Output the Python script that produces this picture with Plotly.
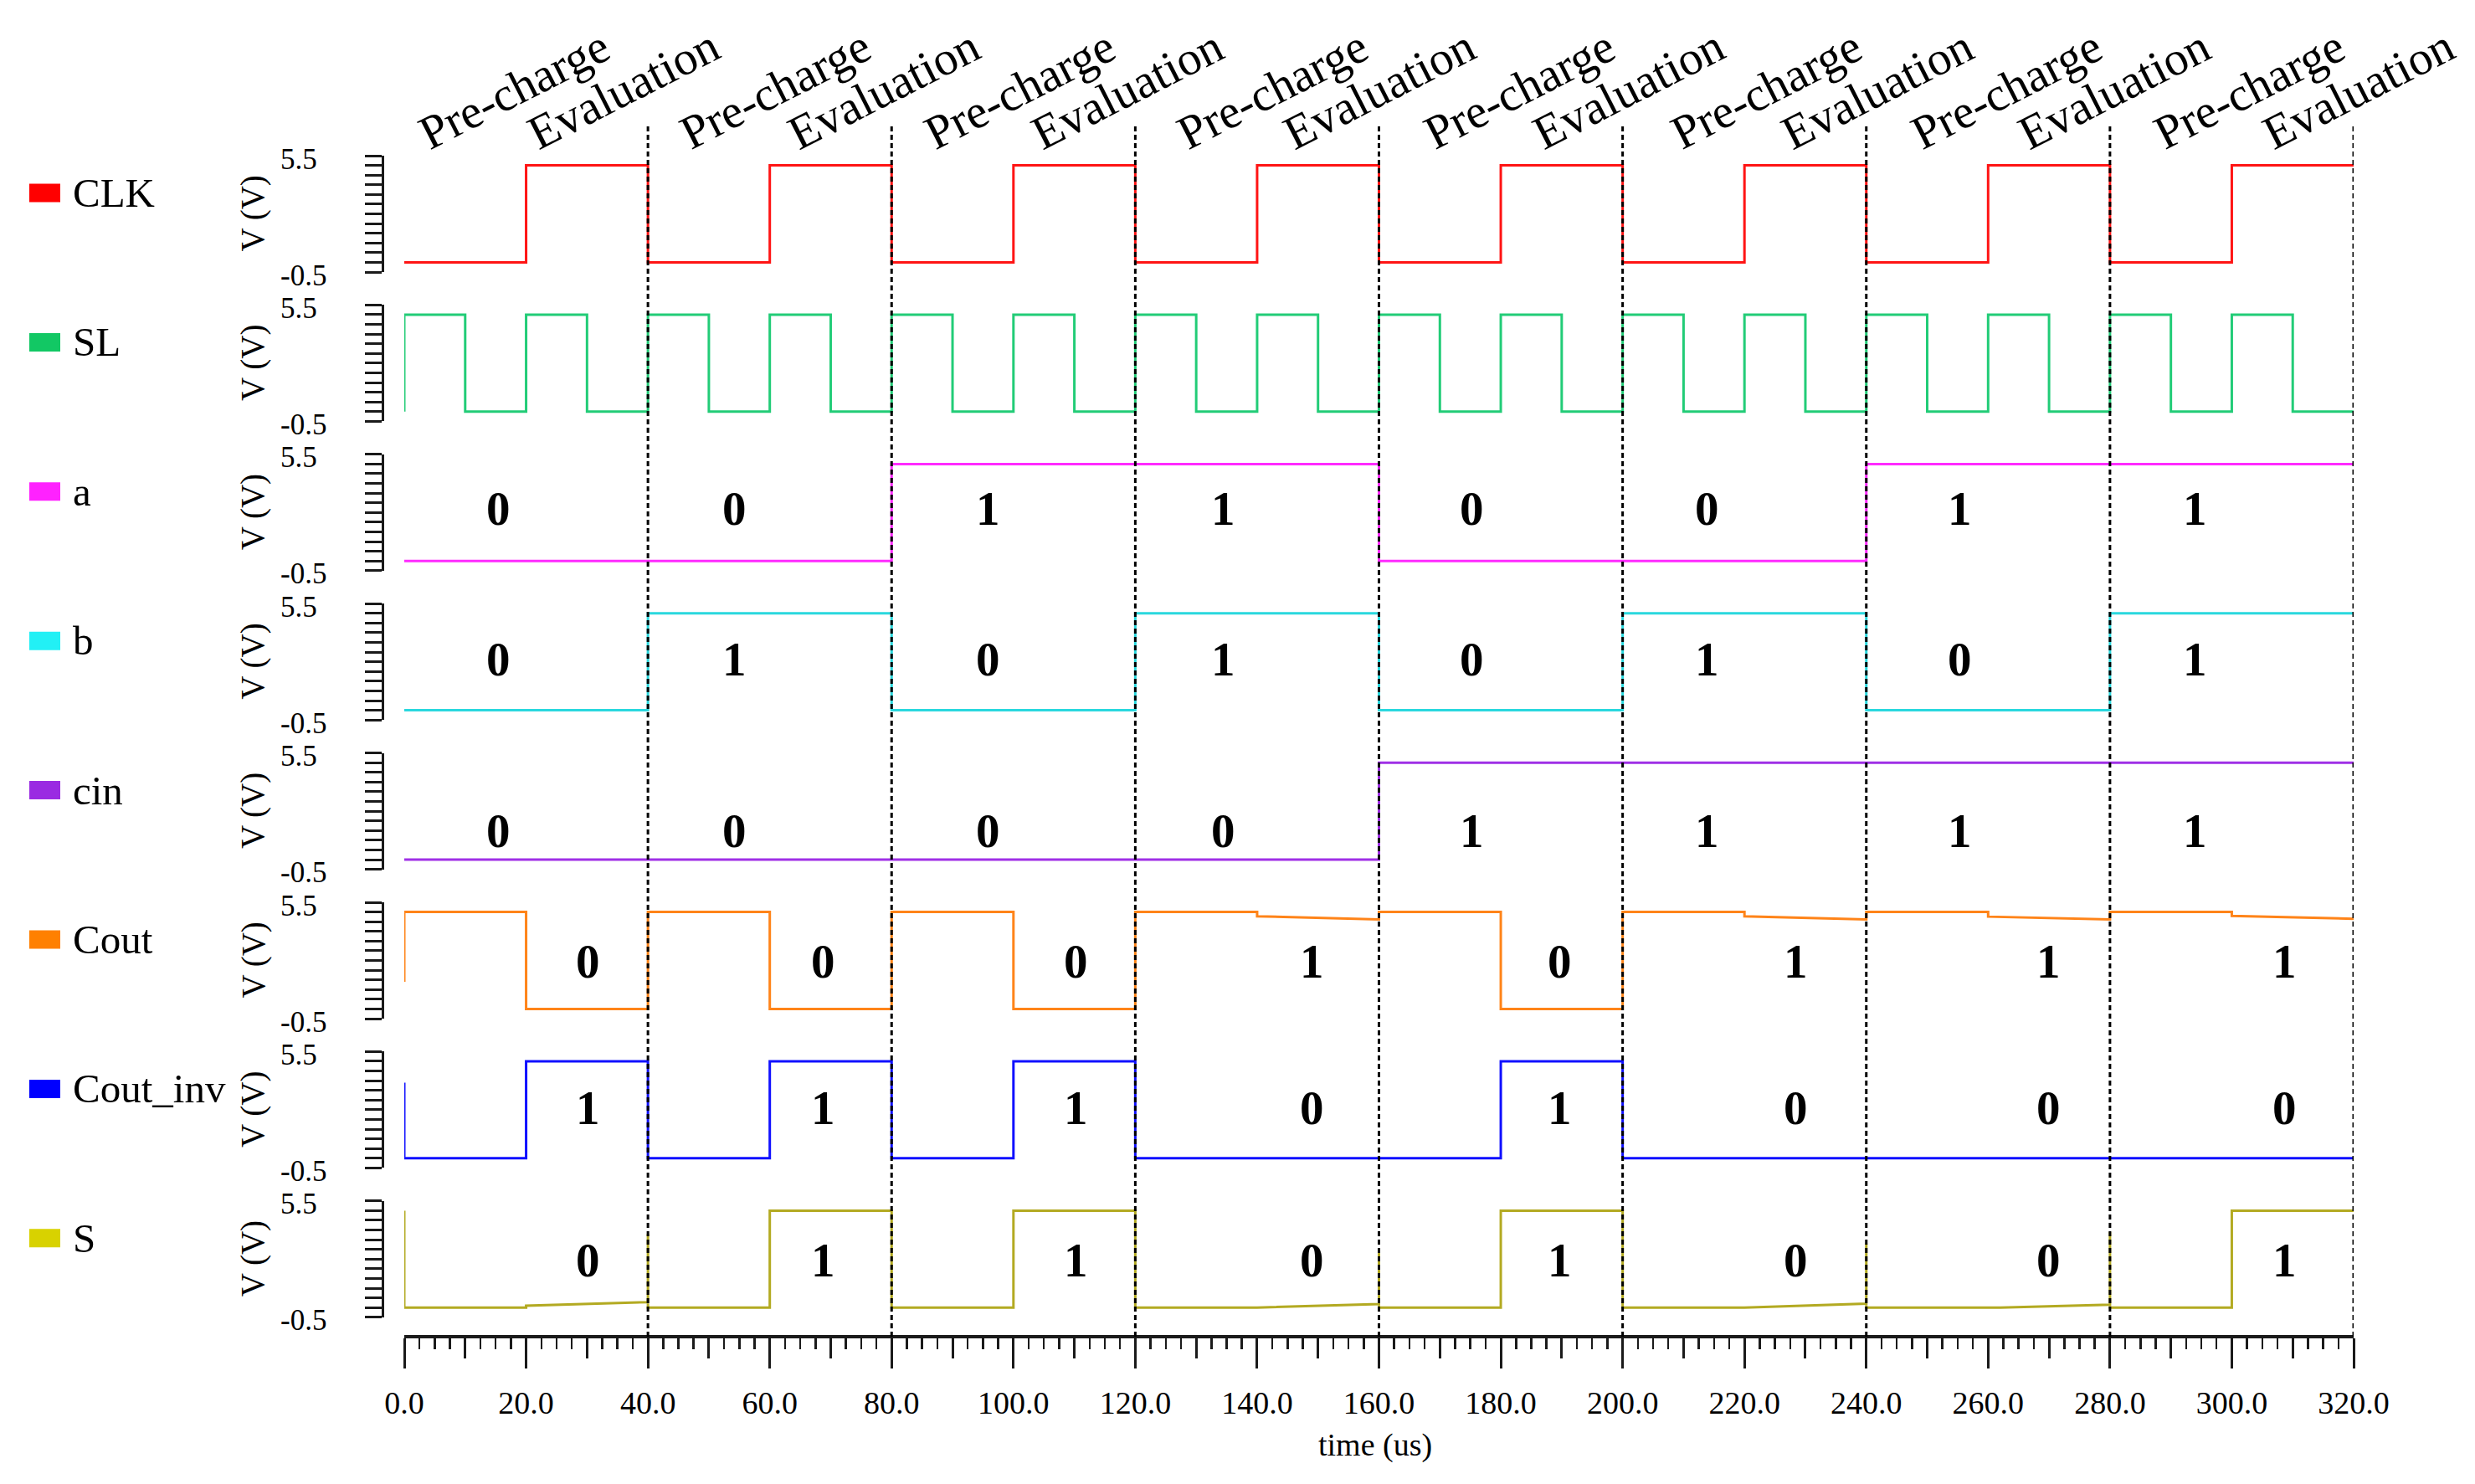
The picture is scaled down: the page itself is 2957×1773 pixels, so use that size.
import plotly.graph_objects as go

W, H = 2957, 1773
FONT = "Liberation Serif"

# ---------------- data ----------------
signal_names = ["CLK", "SL", "a", "b", "cin", "Cout", "Cout_inv", "S"]
line_colors = ["#FF1414", "#22CC77", "#FF2BFF", "#2AD8DE", "#A030E6", "#FF8419", "#1010FF", "#B3AA22"]
swatch_colors = ["#FF0000", "#12C864", "#FF22FF", "#22F0F5", "#9A2BE2", "#FF8000", "#0000FF", "#D8D200"]

# digital levels (V) per fixed segment
clk_levels = [0, 5, 0, 5, 0, 5, 0, 5, 0, 5, 0, 5, 0, 5, 0, 5]            # 20 us segments
sl_start = 0
sl_levels = [5, 0, 5, 0, 5, 0, 5, 0, 5, 0, 5, 0, 5, 0, 5, 0,
             5, 0, 5, 0, 5, 0, 5, 0, 5, 0, 5, 0, 5, 0, 5, 0]             # 10 us segments
a_levels = [0, 0, 5, 5, 0, 0, 5, 5]                                       # 40 us segments
b_levels = [0, 5, 0, 5, 0, 5, 0, 5]
cin_levels = [0, 0, 0, 0, 5, 5, 5, 5]
cout_inv_start = 3.9
cout_inv_levels = [0, 5, 0, 5, 0, 5, 0, 0, 0, 5, 0, 0, 0, 0, 0, 0]      # 20 us segments

# analog-looking outputs (time us, V)
cout_t = [0, 0, 20, 20, 40, 40, 60, 60, 80, 80, 100, 100, 120, 120, 140, 140, 160, 160,
          180, 180, 200, 200, 220, 220, 240, 240, 260, 260, 280, 280, 300, 300, 320]
cout_v = [1.4, 5, 5, 0, 0, 5, 5, 0, 0, 5, 5, 0, 0, 5, 5, 4.78, 4.62, 5,
          5, 0, 0, 5, 5, 4.78, 4.62, 5, 5, 4.76, 4.62, 5, 5, 4.8, 4.65]
s_t = [0, 0, 20, 20, 40, 40, 40, 60, 60, 80, 80, 100, 100, 120, 120, 140, 160, 160, 160,
       180, 180, 200, 200, 220, 240, 240, 240, 262, 280, 280, 280, 300, 300, 320]
s_v = [5, 0, 0, 0.1, 0.28, 3.8, 0, 0, 5, 5, 0, 0, 5, 5, 0, 0, 0.18, 3.0, 0,
       0, 5, 5, 0, 0, 0.2, 3.3, 0, 0, 0.15, 3.9, 0, 0, 5, 5]

# logic values written on the panels
a_bits = ["0", "0", "1", "1", "0", "0", "1", "1"]
b_bits = ["0", "1", "0", "1", "0", "1", "0", "1"]
cin_bits = ["0", "0", "0", "0", "1", "1", "1", "1"]
cout_bits = ["0", "0", "0", "1", "0", "1", "1", "1"]
cout_inv_bits = ["1", "1", "1", "0", "1", "0", "0", "0"]
s_bits = ["0", "1", "1", "0", "1", "0", "0", "1"]
input_bit_t = [15.5, 54.2, 95.8, 134.4, 175.2, 213.9, 255.4, 294.0]
output_bit_t = [30.1, 68.8, 110.3, 149.0, 189.7, 228.4, 269.9, 308.6]

phase_boundaries = [40, 80, 120, 160, 200, 240, 280, 320]
precharge_label_t = [18.0, 60.8, 101.0, 142.5, 183.0, 223.5, 263.0, 302.8]
evaluation_label_t = [35.9, 78.7, 118.7, 160.0, 200.9, 241.8, 280.7, 320.7]

x_major_ticks = [0, 20, 40, 60, 80, 100, 120, 140, 160, 180, 200, 220, 240, 260, 280, 300, 320]
x_range = [0, 320]
y_range = [-0.5, 5.5]


def steps(levels, seg, start=None):
    t, v = [], []
    if start is not None:
        t.append(0)
        v.append(start)
    for k, lv in enumerate(levels):
        t += [k * seg, (k + 1) * seg]
        v += [lv, lv]
    return t, v


waves = [
    steps(clk_levels, 20),
    steps(sl_levels, 10, sl_start),
    steps(a_levels, 40),
    steps(b_levels, 40),
    steps(cin_levels, 40),
    (cout_t, cout_v),
    steps(cout_inv_levels, 20, cout_inv_start),
    (s_t, s_v),
]
bits = [None, None, a_bits, b_bits, cin_bits, cout_bits, cout_inv_bits, s_bits]
bit_t = [None, None, input_bit_t, input_bit_t, input_bit_t, output_bit_t, output_bit_t, output_bit_t]
bit_v = [None, None, 2.7, 2.65, 1.5, 2.45, 2.6, 2.45]

# ---------------- layout geometry (pixels) ----------------
X_LEFT, X_RIGHT = 483, 2812
YAX_X = 457
TOP0, PITCH, PH = 186, 178.4, 139
XAXIS_Y = 1597
DASH_TOP = 147
PX_PER_US = (X_RIGHT - X_LEFT) / (x_range[1] - x_range[0])


def px_x(p):
    return p / W


def px_y(p):
    return 1 - p / H


fig = go.Figure()
layout = dict(
    template="none",
    width=W, height=H, autosize=False,
    margin=dict(l=0, r=0, t=0, b=0, pad=0, autoexpand=False),
    paper_bgcolor="white", plot_bgcolor="white",
    showlegend=False,
    font=dict(family=FONT, color="black"),
)
annotations = []
shapes = []

for i, name in enumerate(signal_names):
    n = i + 1
    top = TOP0 + i * PITCH
    bot = top + PH
    t, v = waves[i]
    fig.add_trace(go.Scatter(
        x=t, y=v, mode="lines", name=name,
        line=dict(color=line_colors[i], width=3),
        xaxis=f"x{n}", yaxis=f"y{n}", hoverinfo="skip",
    ))
    xa = dict(domain=[px_x(X_LEFT), px_x(X_RIGHT)], range=x_range,
              showgrid=False, zeroline=False, automargin=False)
    if n < 8:
        xa.update(anchor=f"y{n}", visible=False, matches="x8")
    else:
        xa.update(anchor="free", position=px_y(XAXIS_Y),
                  showline=True, linewidth=4, linecolor="#1a1a1a",
                  ticks="outside", ticklen=36, tickwidth=3, tickcolor="#1a1a1a",
                  tickvals=x_major_ticks, tickformat=".1f",
                  tickfont=dict(family=FONT, size=38, color="black"),
                  ticklabelstandoff=8,
                  minor=dict(dtick=2.5, ticks="outside", ticklen=13, tickwidth=2.5, tickcolor="#1a1a1a",
                             showgrid=False))
    layout[f"xaxis{n}"] = xa
    layout[f"yaxis{n}"] = dict(
        domain=[px_y(bot), px_y(top)], range=y_range,
        anchor="free", position=px_x(YAX_X), automargin=False,
        showgrid=False, zeroline=False,
        showline=True, linewidth=3, linecolor="#1a1a1a",
        ticks="outside", ticklen=20, tickwidth=3, tickcolor="#1a1a1a",
        dtick=0.5, tick0=-0.5, showticklabels=False,
    )
    # y tick labels (ends only)
    for yv in y_range:
        annotations.append(dict(
            x=px_x(333), xref="paper", xanchor="left",
            y=yv, yref=f"y{n}", yanchor="middle", yshift=-4,
            text=f"{yv:.1f}", showarrow=False,
            font=dict(family=FONT, size=35, color="black"),
        ))
    # y axis title
    annotations.append(dict(
        x=px_x(302), xref="paper", xanchor="center",
        y=px_y(top + PH / 2), yref="paper", yanchor="middle",
        text="V (V)", textangle=-90, showarrow=False,
        font=dict(family=FONT, size=39, color="black"),
    ))
    # legend swatch + name
    cy = top + PH / 2 - 25
    shapes.append(dict(type="rect", xref="paper", yref="paper",
                       x0=px_x(35), x1=px_x(72), y0=px_y(cy + 11), y1=px_y(cy - 11),
                       fillcolor=swatch_colors[i], line=dict(width=0)))
    annotations.append(dict(
        x=px_x(85), xref="paper", xanchor="left",
        y=px_y(cy), yref="paper", yanchor="middle",
        text=name, showarrow=False,
        font=dict(family=FONT, size=49, color="black"),
    ))
    # bit labels
    if bits[i] is not None:
        for bt, bx in zip(bits[i], bit_t[i]):
            annotations.append(dict(
                x=bx, xref=f"x{n}", y=bit_v[i], yref=f"y{n}",
                xanchor="center", yanchor="middle",
                text=f"<b>{bt}</b>", showarrow=False,
                font=dict(family=FONT, size=57, color="black"),
            ))

# medium ticks at half-periods via an overlaid axis
mid_ticks = [(x_major_ticks[k] + x_major_ticks[k + 1]) / 2 for k in range(len(x_major_ticks) - 1)]
fig.add_trace(go.Scatter(x=[None], y=[None], xaxis="x9", yaxis="y8", showlegend=False, hoverinfo="skip"))
layout["xaxis9"] = dict(
    overlaying="x8", anchor="free", position=px_y(XAXIS_Y), automargin=False,
    domain=[px_x(X_LEFT), px_x(X_RIGHT)], range=x_range,
    showgrid=False, zeroline=False, showline=False,
    ticks="outside", ticklen=25, tickwidth=3, tickcolor="#1a1a1a",
    tickvals=mid_ticks, showticklabels=False,
)

# phase boundaries
for tb in phase_boundaries:
    shapes.append(dict(type="line", xref="x8", yref="paper",
                       x0=tb, x1=tb, y0=px_y(XAXIS_Y), y1=px_y(DASH_TOP),
                       line=dict(color="black", width=3, dash="6px,4px"), layer="above"))

# phase labels
for pt, et in zip(precharge_label_t, evaluation_label_t):
    for txt, tx in (("Pre-charge", pt), ("Evaluation", et)):
        xin = min(max(tx, x_range[0]), x_range[1])
        annotations.append(dict(
            x=xin, xref="x8", xshift=(tx - xin) * PX_PER_US,
            y=px_y(106), yref="paper",
            xanchor="center", yanchor="middle",
            text=txt, textangle=-27, showarrow=False,
            font=dict(family=FONT, size=57, color="black"),
        ))

# x axis title
annotations.append(dict(
    x=px_x(1643), xref="paper", y=px_y(1726), yref="paper",
    xanchor="center", yanchor="middle", text="time (us)", showarrow=False,
    font=dict(family=FONT, size=38, color="black"),
))

layout["annotations"] = annotations
layout["shapes"] = shapes
fig.update_layout(**layout)
fig.write_html("out.html",
               config={"displayModeBar": False, "staticPlot": True},
               post_script="document.body.style.margin='0';document.body.style.overflow='hidden';")
